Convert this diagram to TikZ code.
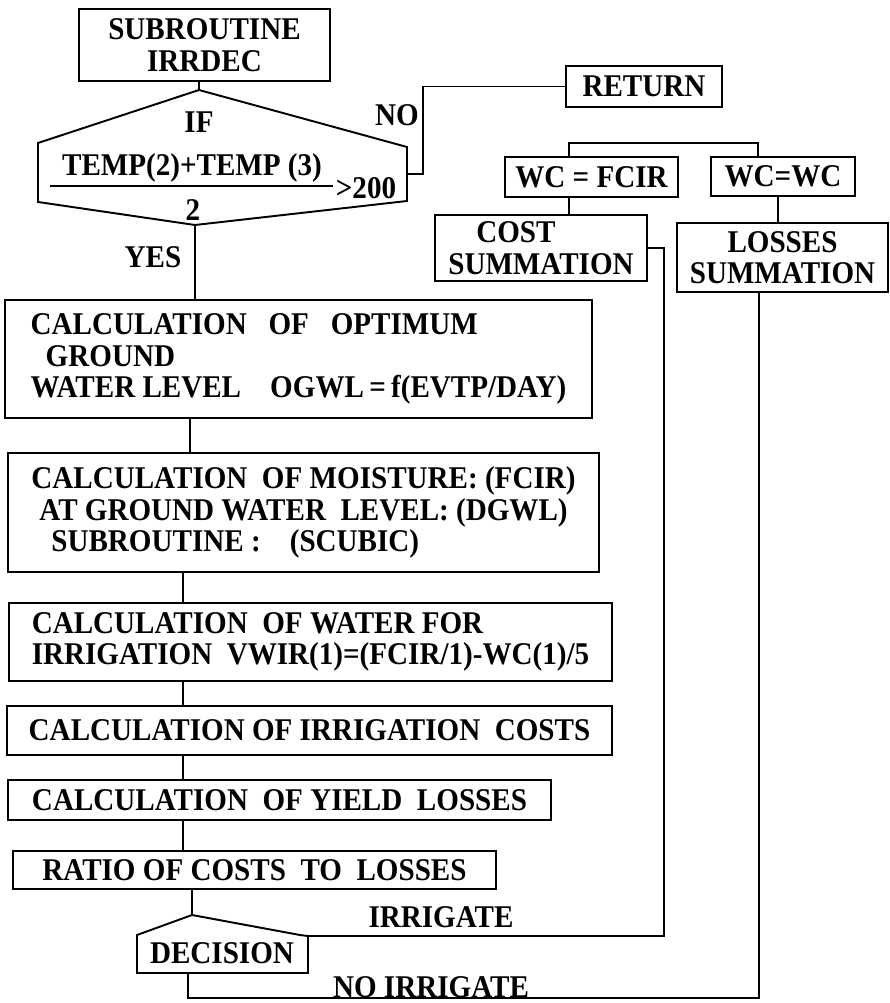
\documentclass[tikz,border=0pt]{standalone}
\usepackage{fontspec}
\setmainfont{Liberation Serif}[FakeStretch=0.92]
\usetikzlibrary{calc}
\tikzset{
box/.style={draw,line width=1.1pt,inner sep=2pt},
outline/.style={line width=1.1pt,line join=miter},
link/.style={line width=1pt},
lbl/.style={inner sep=0pt}}

\begin{document}
\begin{tikzpicture}[x=0.02cm,y=-0.02cm,font=\bfseries\fontsize{18}{18}\selectfont]
\useasboundingbox (0,0) rectangle (889,1003);

% main column
\node[box,minimum width=5.02cm,minimum height=1.44cm,align=center] (sub) at (204.5,45) {SUBROUTINE\\IRRDEC};

\coordinate (ctop) at (199,90);
\coordinate (cbot) at (195,225);
\coordinate (cright) at (407,174);
\draw[outline] (ctop) -- (38,143) -- (38,202) -- (cbot) -- (407,201) -- (407,147) -- cycle;
\node[lbl] (if) at (199,122) {IF};
\node[lbl] (num) at (192,168) {TEMP(2)+TEMP (3)};
\coordinate (fl) at (50,186);
\coordinate (fr) at (333,186);
\draw[link] (fl) -- (fr);
\node[lbl] (gt) at (366,188) {>200};
\node[lbl] (den) at (193,210) {2};

\node[box,minimum width=11.74cm,minimum height=2.36cm,align=left] (opt) at (298.5,359)
  {CALCULATION~~~OF~~~OPTIMUM\\\hspace*{0.3cm}GROUND\\WATER~LEVEL~~~~OGWL\,=\,f(EVTP/DAY)};
\node[box,minimum width=11.82cm,minimum height=2.38cm,align=left] (moist) at (303.5,512.5)
  {CALCULATION~~OF~MOISTURE:~(FCIR)\\\hspace*{0.16cm}AT~GROUND~WATER~~LEVEL:~(DGWL)\\\hspace*{0.4cm}SUBROUTINE~:~~~~(SCUBIC)};
\node[box,minimum width=12.06cm,minimum height=1.56cm,align=left] (water) at (310.5,642)
  {CALCULATION~~OF~WATER~FOR\\IRRIGATION~~VWIR(1)=(FCIR/1)-WC(1)/5};
\node[box,minimum width=12.1cm,minimum height=0.98cm] (costs) at (309.5,730.5)
  {CALCULATION~OF~IRRIGATION~~COSTS};
\node[box,minimum width=10.86cm,minimum height=0.8cm] (yield) at (279.5,800)
  {CALCULATION~~OF~YIELD~~LOSSES};
\node[box,minimum width=9.66cm,minimum height=0.76cm] (ratio) at (254.5,870)
  {RATIO~OF~COSTS~~TO~~LOSSES};

\coordinate (dtop) at (192,915);
\coordinate (dright) at (308,936);
\coordinate (dbot) at (188,973);
\draw[outline] (137,973) -- (137,935) -- (dtop) -- (300,935) -- (dright) -- (308,973) -- cycle;
\node[lbl] (dec) at (222,953) {DECISION};

% right side
\node[box,minimum width=3.12cm,minimum height=0.82cm] (ret) at (644,86.5) {RETURN};
\node[box,minimum width=3.46cm,minimum height=0.8cm] (wcf) at (591.5,177) {WC = FCIR};
\node[box,minimum width=2.88cm,minimum height=0.78cm] (wcw) at (783,176.5) {WC=WC};
\node[box,minimum width=4.24cm,minimum height=1.32cm,align=left] (cost) at (541,248)
  {\hspace*{0.56cm}COST\\SUMMATION};
\node[box,minimum width=4.22cm,minimum height=1.38cm,align=center] (loss) at (782.5,257.5)
  {LOSSES\\SUMMATION};

% connectors
\draw[link] (ctop |- sub.south) -- (ctop);
\draw[link] (cbot) -- (cbot |- opt.north);
\node[lbl] (yes) at (153,257) {YES};
\draw[link] (cright) -- ++(16,0) |- (ret.west);
\node[lbl] (no) at (397,115) {NO};

\coordinate (sa) at (190,430);
\coordinate (sb) at (183,590);
\draw[link] (opt.south -| sa) -- (moist.north -| sa);
\foreach \a/\b in {moist/water,water/costs,costs/yield,yield/ratio}
  \draw[link] (\a.south -| sb) -- (\b.north -| sb);
\draw[link] (ratio.south -| dtop) -- (dtop);

\coordinate (bl) at (569,143);
\coordinate (br) at (758,143);
\coordinate (ll) at (778,200);
\draw[link] (wcf.north -| bl) |- (br) -- (wcw.north -| br);
\draw[link] (wcf.south -| bl) -- (cost.north -| bl);
\draw[link] (wcw.south -| ll) -- (loss.north -| ll);

\draw[link] (cost.east) -- ++(16,0) |- (dright);
\node[lbl] (irr) at (441,917) {IRRIGATE};
\coordinate (nirr) at (759,998);
\draw[link] (dbot) |- (nirr) -- (nirr |- loss.south);
\node[lbl] (noirr) at (431,987) {NO IRRIGATE};
\end{tikzpicture}
\end{document}
